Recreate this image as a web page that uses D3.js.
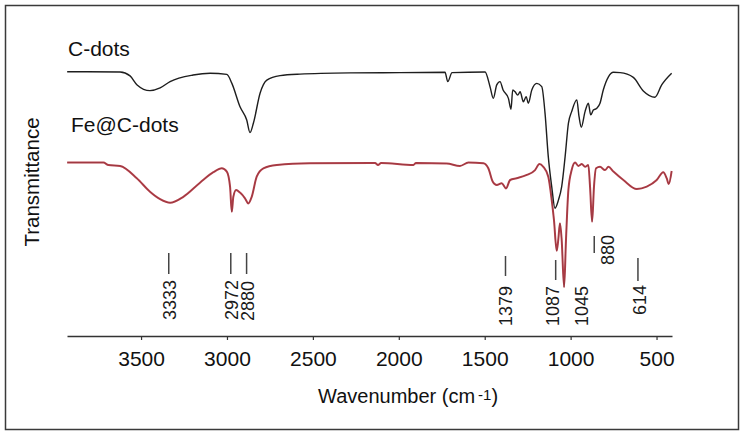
<!DOCTYPE html>
<html>
<head>
<meta charset="utf-8">
<script src="https://cdn.jsdelivr.net/npm/d3@7"></script>
<style>
  body { margin: 0; background: #fff; }
  svg { display: block; font-family: Arial, "Liberation Sans", sans-serif; }
</style>
</head>
<body>
<div id="chart"></div>
<script>
// FTIR spectra (wavenumber cm-1, relative transmittance)
var cdotsWave = [3930, 3622, 3564, 3523, 3448, 3389, 3331, 3197, 3098, 3001, 2972, 2924, 2885, 2866,
  2846, 2807, 2768, 2691, 2575, 2284, 1993, 1731, 1715, 1690, 1498, 1469, 1450, 1430, 1411, 1393,
  1362, 1347, 1337, 1323, 1308, 1294, 1275, 1259, 1246, 1226, 1197, 1168, 1149, 1130, 1110, 1091,
  1071, 1052, 1032, 1013, 994, 964, 951, 938, 916, 897, 883, 868, 848, 829, 810, 780, 751, 712,
  635, 577, 509, 470, 412]
var cdotsT = [88.1, 88.0, 86.7, 83.7, 81.8, 82.7, 84.8, 87.0, 87.6, 87.2, 84.3, 76.4, 72.0, 67.8,
  71.0, 81.0, 85.3, 86.8, 87.3, 87.7, 87.8, 87.9, 84.8, 87.8, 88.0, 83.1, 79.2, 83.7, 84.8, 82.0,
  79.2, 75.6, 82.0, 81.4, 80.3, 81.4, 78.1, 79.8, 77.6, 82.0, 84.2, 83.1, 74.3, 59.8, 49.8, 42.6,
  45.3, 49.8, 59.8, 70.9, 74.8, 78.7, 73.1, 69.6, 74.8, 77.6, 73.7, 75.3, 75.9, 77.6, 82.0, 86.4,
  87.9, 87.8, 86.2, 81.7, 79.6, 83.7, 87.6]

var fecdotsWave = [3930, 3719, 3690, 3622, 3525, 3448, 3389, 3331, 3254, 3157, 3079, 3030, 3001,
  2982, 2972, 2963, 2947, 2924, 2895, 2876, 2856, 2827, 2788, 2710, 2516, 2138, 2121, 2103, 1915,
  1900, 1721, 1644, 1595, 1508, 1479, 1453, 1430, 1401, 1376, 1352, 1314, 1255, 1207, 1182, 1159,
  1130, 1110, 1097, 1081, 1072, 1062, 1052, 1038, 1027, 1013, 994, 974, 955, 935, 916, 897, 887,
  875, 864, 852, 829, 800, 780, 751, 693, 615, 557, 499, 461, 441, 429, 412]
var fecdotsT = [57.8, 57.8, 57.0, 56.7, 52.6, 48.1, 45.6, 44.4, 46.4, 51.1, 54.6, 55.9, 54.8,
  49.8, 41.4, 46.4, 48.7, 47.8, 45.9, 44.2, 46.4, 53.1, 55.9, 57.0, 57.6, 57.7, 57.0, 57.7, 57.0,
  57.7, 57.5, 56.7, 57.8, 57.6, 55.9, 51.4, 50.3, 50.9, 49.2, 52.0, 52.6, 53.7, 55.3, 57.3, 56.4,
  53.1, 45.3, 38.7, 28.4, 32.0, 37.6, 32.0, 16.3, 32.0, 48.7, 55.3, 57.8, 56.7, 57.3, 56.4, 57.0,
  49.8, 38.1, 49.8, 55.9, 56.4, 55.3, 56.4, 54.8, 52.0, 49.0, 49.8, 52.0, 54.6, 52.6, 50.7, 55.0]

var xTicks = [3500, 3000, 2500, 2000, 1500, 1000, 500]
var peakWaves = [3333, 2972, 2880, 1379, 1087, 1045, 880, 614]
var peakLabels = ['3333', '2972', '2880', '1379', '1087', '1045', '880', '614']

var width = 745
var height = 437

var x = d3.scaleLinear().domain([3931, 410]).range([67, 672])
var y = d3.scaleLinear().domain([0, 100]).range([336, 36])

var svg = d3.select('#chart').append('svg')
  .attr('width', width)
  .attr('height', height)

// outer frame
svg.append('rect')
  .attr('x', 5.5).attr('y', 5.5)
  .attr('width', 733).attr('height', 424)
  .attr('fill', 'none')
  .attr('stroke', '#3a3a3a')
  .attr('stroke-width', 1.5)

// x axis
var xAxis = svg.append('g')
  .attr('transform', 'translate(0,' + y(0) + ')')
  .call(d3.axisBottom(x).tickValues(xTicks).tickFormat(d3.format('d'))
    .tickSize(4).tickPadding(11).tickSizeOuter(0))
xAxis.attr('font-family', null).attr('font-size', null)
xAxis.select('.domain').attr('stroke', '#333').attr('stroke-width', 1.6)
xAxis.selectAll('.tick line').attr('stroke', '#333').attr('stroke-width', 1.2)
xAxis.selectAll('.tick text')
  .attr('fill', '#111')
  .style('font-size', '21px')

// spectra
var line = d3.line()
  .x(function(d) { return x(d[0]) })
  .y(function(d) { return y(d[1]) })
  .curve(d3.curveMonotoneX)

var cdots = cdotsWave.map(function(w, i) { return [w, cdotsT[i]] })
var fecdots = fecdotsWave.map(function(w, i) { return [w, fecdotsT[i]] })

svg.append('path')
  .datum(fecdots)
  .attr('d', line)
  .attr('fill', 'none')
  .attr('stroke', '#b8424c')
  .attr('stroke-width', 2)
  .attr('stroke-linejoin', 'round')

svg.append('path')
  .datum(fecdots)
  .attr('d', line)
  .attr('fill', 'none')
  .attr('stroke', '#6a2a30')
  .attr('stroke-width', 0.6)
  .attr('stroke-opacity', 0.6)

svg.append('path')
  .datum(cdots)
  .attr('d', line)
  .attr('fill', 'none')
  .attr('stroke', '#1e1e1e')
  .attr('stroke-width', 1.4)
  .attr('stroke-linejoin', 'round')

// series names
svg.append('text').attr('x', 68).attr('y', 56)
  .style('font-size', '21px').attr('fill', '#111').text('C-dots')
svg.append('text').attr('x', 71).attr('y', 132)
  .style('font-size', '21px').attr('fill', '#111').text('Fe@C-dots')

// peak markers: bar span, text top and horizontal nudges (pixels)
var peakLayout = {
  '3333': { bar: [253, 274], top: 280, dx: 0, bx: -1 },
  '2972': { bar: [253, 274], top: 280, dx: 0, bx: -1 },
  '2880': { bar: [253, 274], top: 281, dx: 0, bx: -1 },
  '1379': { bar: [256, 276], top: 286, dx: 0, bx: 0 },
  '1087': { bar: [260, 280], top: 286, dx: -3, bx: 0 },
  '1045': { bar: null, top: 286, dx: 19, bx: 0 },
  '880': { bar: [236, 253], top: 235, dx: 16, bx: 3 },
  '614': { bar: [258, 281], top: 285, dx: 3, bx: 1 }
}

var peaks = svg.append('g')
peakWaves.forEach(function(w, i) {
  var lab = peakLabels[i]
  var lay = peakLayout[lab]
  var px = x(w)
  if (lay.bar) {
    peaks.append('line')
      .attr('x1', px + lay.bx).attr('x2', px + lay.bx)
      .attr('y1', lay.bar[0]).attr('y2', lay.bar[1])
      .attr('stroke', '#444').attr('stroke-width', 1.5)
  }
  peaks.append('text')
    .attr('transform', 'translate(' + (px + lay.dx) + ',' + lay.top + ') rotate(-90)')
    .attr('text-anchor', 'end')
    .attr('dy', '0.35em')
    .style('font-size', '18px')
    .attr('fill', '#1a1a1a')
    .text(lab)
})

// axis titles
svg.append('text')
  .attr('transform', 'translate(39,182) rotate(-90)')
  .attr('text-anchor', 'middle')
  .style('font-size', '20.5px')
  .attr('fill', '#111')
  .text('Transmittance')

var xt = svg.append('text')
  .attr('x', 318).attr('y', 403)
  .style('font-size', '20px')
  .attr('fill', '#111')
xt.append('tspan').text('Wavenumber (cm')
xt.append('tspan').attr('dx', 3).attr('dy', -3).style('font-size', '15px').text('-1')
xt.append('tspan').attr('dy', 3).text(')')
</script>
</body>
</html>
